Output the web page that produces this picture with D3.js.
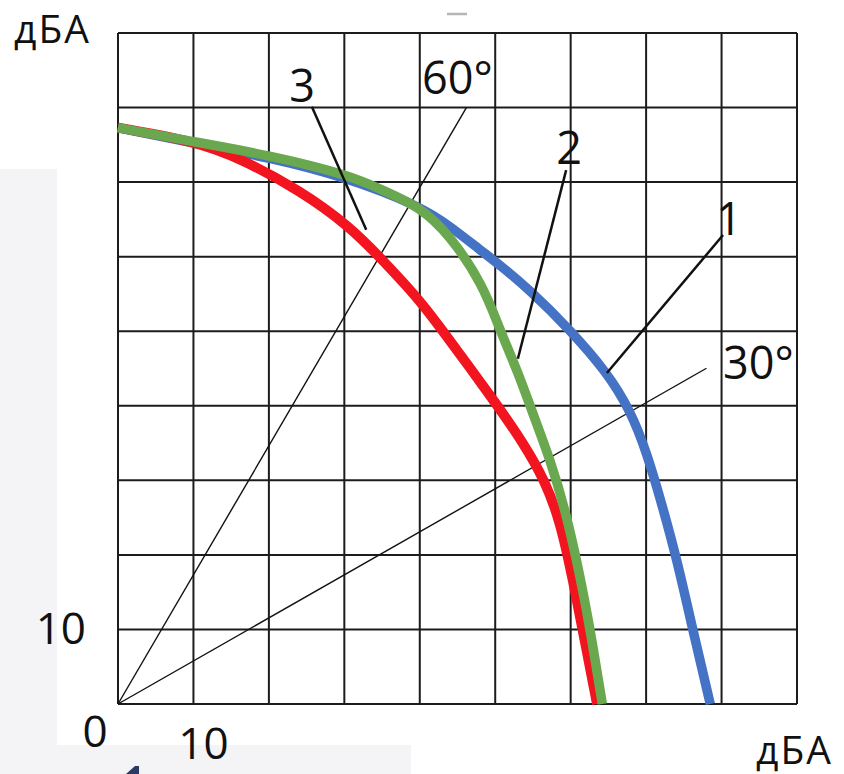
<!DOCTYPE html>
<html>
<head>
<meta charset="utf-8">
<script src="https://cdn.jsdelivr.net/npm/d3@7"></script>
<style>
  html, body { margin: 0; padding: 0; background: #fff; }
  svg { display: block; }
  text { font-family: "Open Sans", sans-serif; fill: #111; }
</style>
</head>
<body>
<div id="chart"></div>
<script>
    'use strict';

    // grid values (dBA), one cell = 10
    var gridTicks = d3.range(0, 100, 10);

    // curve 1 (blue)
    var curve1 = [
        [0, 77.3], [10.1, 75.2], [20.1, 73.3], [30.1, 70.7], [40, 66.8], [44, 64.1],
        [48, 60.9], [50.6, 58.9], [54.6, 55.5], [59.9, 50.2], [64.8, 44.5], [67.9, 39.4],
        [70.1, 33.7], [72.2, 26.4], [74.1, 19.3], [76.2, 9.9], [78.5, 0]
    ];
    // curve 2 (green)
    var curve2 = [
        [0, 77.3], [10.1, 75.4], [20.1, 73.6], [30.8, 70.9], [35.1, 68.9], [40, 66.7],
        [44, 62.9], [48.4, 56.2], [50.6, 50.2], [52.9, 44.8], [55.3, 38.1], [57.3, 32.7],
        [59.3, 26.0], [61.2, 17.4], [62.6, 9.9], [64.2, 0]
    ];
    // curve 3 (red)
    var curve3 = [
        [0, 77.3], [10.1, 75.5], [16.2, 73.2], [24.1, 68.9], [30.8, 64.0], [35.1, 59.5],
        [39.6, 54.6], [42.0, 51.5], [50.2, 40.2], [53.6, 35.2], [56.6, 30.0], [58.7, 24.2],
        [60.3, 16.6], [61.6, 9.9], [63.5, 0]
    ];

    // angled reference lines from the origin
    var rayAngles = [30, 60];
    var rayEndX = [78, 46.2];

    var curveNames = ['1', '2', '3'];

    var svg = d3.select('#chart').append('svg')
        .attr('width', 844)
        .attr('height', 774);

    // slide background peeking around the picture
    svg.append('rect').attr('x', 0).attr('y', 169).attr('width', 57).attr('height', 605).attr('fill', '#f4f4f6');
    svg.append('rect').attr('x', 0).attr('y', 745).attr('width', 411).attr('height', 29).attr('fill', '#f4f4f6');
    svg.append('path').attr('d', 'M126,774 L135,766 L139,766 L139,774 Z').attr('fill', '#2b3a67');
    svg.append('line').attr('x1', 447).attr('x2', 467).attr('y1', 14).attr('y2', 14)
        .attr('stroke', '#b5b5b5').attr('stroke-width', 2.5);

    var x = d3.scaleLinear().domain([0, 90]).range([118, 797]);
    var y = d3.scaleLinear().domain([0, 90]).range([704, 33]);

    // grid
    var grid = svg.append('g').attr('class', 'grid');
    grid.selectAll('line.v').data(gridTicks).enter().append('line')
        .attr('class', 'v')
        .attr('x1', function (d) { return x(d); })
        .attr('x2', function (d) { return x(d); })
        .attr('y1', y(0)).attr('y2', y(90))
        .attr('stroke', '#1c1c1c').attr('stroke-width', 2);
    grid.selectAll('line.h').data(gridTicks).enter().append('line')
        .attr('class', 'h')
        .attr('y1', function (d) { return y(d); })
        .attr('y2', function (d) { return y(d); })
        .attr('x1', x(0)).attr('x2', x(90))
        .attr('stroke', '#1c1c1c').attr('stroke-width', 2);

    // 30 / 60 degree rays
    svg.selectAll('line.ray').data(rayAngles).enter().append('line')
        .attr('class', 'ray')
        .attr('x1', x(0)).attr('y1', y(0))
        .attr('x2', function (d, i) { return x(rayEndX[i]); })
        .attr('y2', function (d, i) { return y(rayEndX[i] * Math.tan(d * Math.PI / 180)); })
        .attr('stroke', '#111').attr('stroke-width', 1.4);

    var line = d3.line()
        .x(function (d) { return x(d[0]); })
        .y(function (d) { return y(d[1]); })
        .curve(d3.curveBasis);

    svg.append('path').datum(curve1).attr('d', line)
        .attr('fill', 'none').attr('stroke', '#4472c4').attr('stroke-width', 9.5);
    svg.append('path').datum(curve3).attr('d', line)
        .attr('fill', 'none').attr('stroke', '#f2141e').attr('stroke-width', 10);
    svg.append('path').datum(curve2).attr('d', line)
        .attr('fill', 'none').attr('stroke', '#6aa84f').attr('stroke-width', 9.5);

    // leaders for curve numbers
    var leaders = [
        { name: curveNames[0], from: [80.2, 62.9], to: [64.8, 44.4], label: [81.0, 62.9] },
        { name: curveNames[1], from: [59.4, 71.6], to: [53.0, 46.3], label: [59.8, 72.4] },
        { name: curveNames[2], from: [25.7, 80.1], to: [32.9, 63.6], label: [24.4, 80.8] }
    ];
    leaders.forEach(function (l) {
        svg.append('line')
            .attr('x1', x(l.from[0])).attr('y1', y(l.from[1]))
            .attr('x2', x(l.to[0])).attr('y2', y(l.to[1]))
            .attr('stroke', '#111').attr('stroke-width', 2.5);
        svg.append('text')
            .attr('x', x(l.label[0])).attr('y', y(l.label[1]))
            .attr('text-anchor', 'middle')
            .attr('font-size', 45).attr('font-weight', 400)
            .text(l.name);
    });

    // angle labels
    svg.append('text').attr('x', x(40.3)).attr('y', y(81.8))
        .attr('font-size', 45).attr('font-weight', 400).text('60°');
    svg.append('text').attr('x', x(80.2)).attr('y', y(43.6))
        .attr('font-size', 45).attr('font-weight', 400).text('30°');

    // axis labels
    svg.append('text').attr('x', 86).attr('y', y(10) + 15)
        .attr('text-anchor', 'end').attr('font-size', 44).attr('font-weight', 400).text('10');
    svg.append('text').attr('x', 95).attr('y', 747)
        .attr('text-anchor', 'middle').attr('font-size', 44).attr('font-weight', 400).text('0');
    svg.append('text').attr('x', x(10) + 10).attr('y', 759)
        .attr('text-anchor', 'middle').attr('font-size', 44).attr('font-weight', 400).text('10');
    svg.append('text').attr('x', 14).attr('y', 43)
        .attr('font-size', 39).attr('font-weight', 400).attr('letter-spacing', 2).text('дБА');
    svg.append('text').attr('x', 756).attr('y', 764)
        .attr('font-size', 39).attr('font-weight', 400).attr('letter-spacing', 2).text('дБА');
</script>
</body>
</html>
